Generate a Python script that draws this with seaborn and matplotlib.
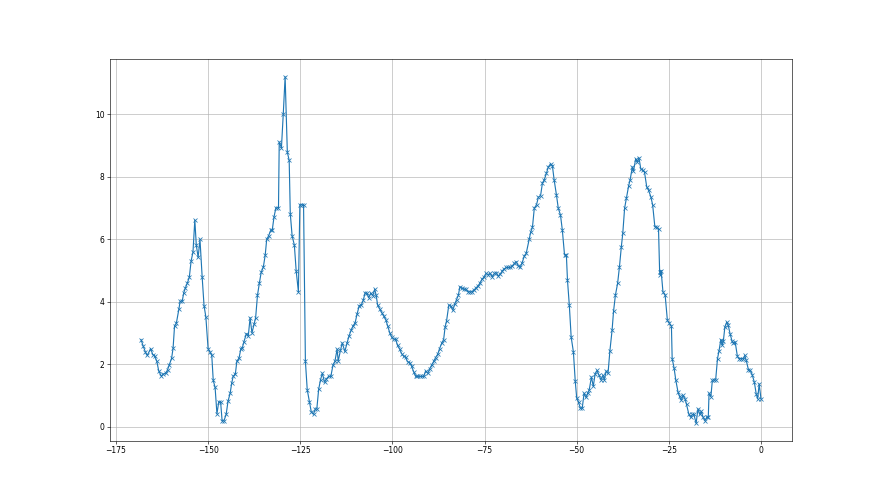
import matplotlib
matplotlib.use("Agg")
import matplotlib.pyplot as plt
import seaborn as sns
import pandas as pd

# readings
x_vals = [
    -168.2, -167.6, -167.0, -166.5, -165.6, -165.0, -164.5, -163.9, -163.4, -162.7,
    -162.1, -161.5, -161.0, -160.5, -159.9, -159.5, -159.1, -158.6, -157.9, -157.6,
    -157.0, -156.6, -156.2, -155.6, -155.1, -154.6, -154.1, -153.6, -153.2, -152.7,
    -152.2, -151.6, -151.1, -150.6, -150.0, -149.5, -149.0, -148.6, -148.1, -147.6,
    -147.1, -146.6, -146.2, -145.7, -145.1, -144.6, -144.0, -143.6, -143.2, -142.6,
    -142.2, -141.6, -141.1, -140.7, -140.3, -139.6, -139.1, -138.6, -138.1, -137.5,
    -137.1, -136.6, -136.1, -135.6, -135.0, -134.5, -134.1, -133.6, -133.0, -132.6,
    -132.1, -131.6, -130.9, -130.7, -130.1, -129.6, -129.1, -128.5, -128.0, -127.7,
    -127.2, -126.6, -126.1, -125.5, -125.1, -124.5, -124.1, -123.6, -123.1, -122.5,
    -122.0, -121.4, -120.9, -120.5, -120.0, -119.5, -119.0, -118.4, -117.9, -117.3,
    -116.7, -116.1, -115.6, -115.0, -114.7, -114.1, -113.6, -112.9, -112.3, -111.8,
    -111.2, -110.7, -110.1, -109.6, -109.0, -108.4, -107.9, -107.4, -106.9, -106.4,
    -105.9, -105.3, -104.8, -104.4, -104.0, -103.4, -102.9, -102.4, -101.8, -101.3,
    -100.7, -100.2, -99.6, -99.1, -98.6, -98.0, -97.5, -96.9, -96.4, -95.9,
    -95.3, -94.8, -94.2, -93.7, -93.2, -92.6, -92.1, -91.5, -91.0, -90.4,
    -89.9, -89.3, -88.8, -88.3, -87.7, -87.2, -86.6, -86.1, -85.7, -85.3,
    -84.7, -84.2, -83.6, -83.1, -82.6, -82.1, -81.7, -81.1, -80.6, -80.0,
    -79.5, -78.9, -78.4, -77.9, -77.3, -76.8, -76.2, -75.7, -75.1, -74.6,
    -74.1, -73.5, -72.9, -72.3, -71.8, -71.3, -70.7, -70.2, -69.6, -69.1,
    -68.6, -68.0, -67.5, -66.9, -66.4, -65.8, -65.3, -64.8, -64.2, -63.7,
    -62.9, -62.5, -62.0, -61.5, -60.9, -60.4, -59.8, -59.3, -58.8, -58.2,
    -57.7, -57.1, -56.6, -56.1, -55.5, -55.0, -54.4, -53.9, -53.3, -52.8,
    -52.5, -52.0, -51.5, -50.9, -50.4, -50.0, -49.5, -49.0, -48.5, -48.0,
    -47.5, -47.0, -46.6, -46.0, -45.5, -45.0, -44.5, -43.9, -43.4, -42.9,
    -42.5, -42.0, -41.5, -41.0, -40.4, -40.0, -39.5, -38.9, -38.4, -37.9,
    -37.5, -37.0, -36.5, -35.9, -35.5, -34.9, -34.6, -34.0, -33.6, -33.1,
    -32.6, -32.1, -31.6, -31.0, -30.5, -29.9, -29.4, -28.8, -28.3, -27.8,
    -27.5, -27.3, -27.1, -26.6, -26.0, -25.4, -24.9, -24.3, -24.1, -23.6,
    -23.1, -22.5, -22.1, -21.6, -21.2, -20.6, -20.2, -19.6, -19.1, -18.6,
    -18.2, -17.6, -17.1, -16.6, -16.2, -15.7, -15.2, -14.7, -14.3, -14.1,
    -13.6, -13.2, -12.8, -12.3, -11.8, -11.4, -10.9, -10.5, -10.2, -9.8,
    -9.3, -8.9, -8.4, -7.9, -7.5, -7.0, -6.4, -5.9, -5.3, -4.8,
    -4.4, -4.0, -3.4, -2.9, -2.4, -1.8, -1.3, -0.9, -0.5, 0.0,
]
y_vals = [
    2.79, 2.58, 2.39, 2.28, 2.50, 2.31, 2.27, 2.09, 1.79, 1.62,
    1.69, 1.71, 1.82, 1.99, 2.19, 2.51, 3.22, 3.32, 3.78, 4.01,
    4.03, 4.29, 4.43, 4.61, 4.78, 5.31, 5.59, 6.62, 5.82, 5.42,
    6.00, 4.78, 3.88, 3.51, 2.50, 2.39, 2.28, 1.48, 1.26, 0.41,
    0.80, 0.79, 0.19, 0.19, 0.39, 0.81, 1.08, 1.39, 1.61, 1.69,
    2.09, 2.20, 2.50, 2.53, 2.71, 2.98, 2.90, 3.49, 3.00, 3.30,
    3.49, 4.21, 4.59, 4.94, 5.12, 5.50, 6.00, 6.11, 6.29, 6.29,
    6.73, 7.01, 7.01, 9.12, 8.93, 10.03, 11.21, 8.79, 8.53, 6.82,
    6.11, 5.82, 4.99, 4.32, 7.11, 7.11, 7.11, 2.09, 1.18, 0.79,
    0.47, 0.40, 0.57, 0.57, 1.20, 1.50, 1.71, 1.42, 1.53, 1.61,
    1.61, 1.98, 2.09, 2.48, 2.10, 2.44, 2.68, 2.41, 2.68, 2.89,
    3.09, 3.22, 3.33, 3.60, 3.87, 3.91, 4.05, 4.29, 4.27, 4.13,
    4.27, 4.20, 4.40, 4.21, 3.89, 3.76, 3.65, 3.55, 3.43, 3.23,
    3.00, 2.87, 2.80, 2.80, 2.60, 2.48, 2.34, 2.25, 2.22, 2.08,
    2.05, 1.94, 1.75, 1.61, 1.61, 1.61, 1.61, 1.61, 1.78, 1.71,
    1.85, 1.98, 2.09, 2.21, 2.32, 2.50, 2.68, 2.79, 3.19, 3.39,
    3.89, 3.87, 3.73, 3.92, 4.07, 4.21, 4.48, 4.43, 4.41, 4.40,
    4.32, 4.32, 4.32, 4.37, 4.45, 4.50, 4.61, 4.72, 4.80, 4.91,
    4.87, 4.91, 4.80, 4.91, 4.93, 4.82, 4.89, 4.99, 5.06, 5.10,
    5.10, 5.10, 5.14, 5.23, 5.28, 5.14, 5.12, 5.25, 5.47, 5.55,
    6.00, 6.22, 6.39, 7.00, 7.11, 7.35, 7.40, 7.80, 7.91, 8.12,
    8.32, 8.42, 8.36, 7.89, 7.43, 7.00, 6.78, 6.30, 5.50, 5.50,
    4.69, 3.89, 2.87, 2.40, 1.47, 0.92, 0.78, 0.59, 0.59, 1.07,
    0.94, 1.07, 1.18, 1.59, 1.29, 1.69, 1.80, 1.64, 1.50, 1.64,
    1.50, 1.78, 1.71, 2.42, 3.09, 3.70, 4.21, 4.59, 5.12, 5.75,
    6.19, 7.00, 7.32, 7.72, 7.91, 8.32, 8.18, 8.58, 8.47, 8.61,
    8.25, 8.22, 8.15, 7.68, 7.57, 7.37, 7.11, 6.41, 6.39, 6.33,
    4.96, 4.86, 5.00, 4.32, 4.21, 3.41, 3.32, 3.22, 2.18, 1.89,
    1.48, 1.10, 0.97, 0.84, 1.00, 0.89, 0.71, 0.41, 0.30, 0.39,
    0.39, 0.11, 0.57, 0.39, 0.49, 0.30, 0.19, 0.30, 0.30, 1.07,
    0.96, 1.48, 1.50, 1.50, 2.18, 2.42, 2.79, 2.60, 2.76, 3.19,
    3.35, 3.25, 2.98, 2.76, 2.68, 2.71, 2.25, 2.18, 2.18, 2.18,
    2.28, 2.12, 1.82, 1.80, 1.67, 1.42, 1.05, 0.89, 1.37, 0.89,
]

df = pd.DataFrame({"x": x_vals, "y": y_vals})

fig, ax = plt.subplots(figsize=(16, 9), dpi=55)
sns.lineplot(data=df, x="x", y="y", ax=ax, sort=False, estimator=None,
             color="#1f77b4", marker="x", markersize=6,
             markeredgecolor="#1f77b4", markeredgewidth=1.0)
ax.grid(True, color="#b0b0b0", linewidth=0.8)
ax.set_xlabel("")
ax.set_ylabel("")

fig.savefig("out.png", dpi=55)
